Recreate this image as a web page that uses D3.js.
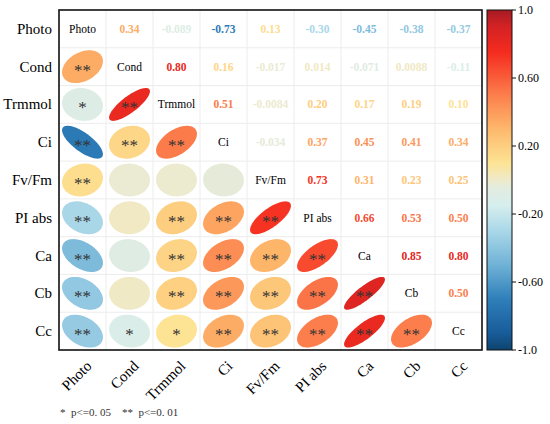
<!DOCTYPE html>
<html>
<head>
<meta charset="utf-8">
<script src="https://cdn.jsdelivr.net/npm/d3@7"></script>
<style>
  body { margin: 0; background: #fff; }
  text { font-family: "Liberation Serif", "Times New Roman", serif; }
</style>
</head>
<body>
<svg width="550" height="424"></svg>
<script>
var vars = ["Photo", "Cond", "Trmmol", "Ci", "Fv/Fm", "PI abs", "Ca", "Cb", "Cc"];

// upper triangle, row by row (r[i][j] for j > i), as labelled
var upper = [
  ["0.34", "-0.089", "-0.73", "0.13", "-0.30", "-0.45", "-0.38", "-0.37"],
  ["0.80", "0.16", "-0.017", "0.014", "-0.071", "0.0088", "-0.11"],
  ["0.51", "-0.0084", "0.20", "0.17", "0.19", "0.10"],
  ["-0.034", "0.37", "0.45", "0.41", "0.34"],
  ["0.73", "0.31", "0.23", "0.25"],
  ["0.66", "0.53", "0.50"],
  ["0.85", "0.80"],
  ["0.50"]
];

// significance marks in the lower triangle, row i, columns 0..i-1
var stars = [
  [],
  ["**"],
  ["*", "**"],
  ["**", "**", "**"],
  ["**", "", "", ""],
  ["**", "", "**", "**", "**"],
  ["**", "", "**", "**", "**", "**"],
  ["**", "", "**", "**", "**", "**", "**"],
  ["**", "*", "*", "**", "**", "**", "**", "**"]
];

var barTicks = [1.0, 0.6, 0.2, -0.2, -0.6, -1.0];
var barTickLabels = ["1.0", "0.60", "0.20", "-0.20", "-0.60", "-1.0"];

var svg = d3.select("svg");

var pLeft = 59, pRight = 482, pTop = 10, pBottom = 350;

var x = d3.scaleBand().domain(vars).range([pLeft, pRight]);
var y = d3.scaleBand().domain(vars).range([pTop, pBottom]);

var color = d3.scaleLinear()
  .domain([-1, -0.9, -0.7, -0.5, -0.3, -0.15, -0.05, 0, 0.1, 0.3, 0.5, 0.75, 0.9, 1])
  .range(["#0e436e", "#185c9a", "#2f7fba", "#6fb2d6", "#a9d7e8", "#d6eeee", "#e2ece0",
          "#eeeacb", "#fde394", "#fdb86c", "#fc7e4c", "#f52c1f", "#d42224", "#a51c24"])
  .interpolate(d3.interpolateRgb);

// build cells
var cells = [];
vars.forEach(function (rv, i) {
  vars.forEach(function (cv, j) {
    var c = { row: rv, col: cv, i: i, j: j };
    if (j > i) { c.label = upper[i][j - i - 1]; c.r = +c.label; c.type = "up"; }
    else if (j < i) { c.label = upper[j][i - j - 1]; c.r = +c.label; c.type = "low"; c.star = stars[i][j]; }
    else { c.type = "diag"; }
    cells.push(c);
  });
});

// grid
var grid = svg.append("g");
vars.forEach(function (v, k) {
  if (k == 0) return;
  grid.append("line").attr("x1", x(v)).attr("x2", x(v)).attr("y1", pTop).attr("y2", pBottom)
    .attr("stroke", "#ececec").attr("stroke-width", 1);
  grid.append("line").attr("x1", pLeft).attr("x2", pRight).attr("y1", y(v)).attr("y2", y(v))
    .attr("stroke", "#ececec").attr("stroke-width", 1);
});

var bw = x.bandwidth(), bh = y.bandwidth();

// ellipse path like corrplot
function ellipsePath(r, cx, cy) {
  var d = Math.acos(Math.max(-1, Math.min(1, r)));
  var pts = d3.range(0, 101).map(function (k) {
    var t = k / 100 * 2 * Math.PI;
    return [cx + Math.cos(t + d / 2) * bw * 0.435, cy - Math.cos(t - d / 2) * bh * 0.435];
  });
  return d3.line()(pts) + "Z";
}

var g = svg.append("g");

g.selectAll(".ell")
  .data(cells.filter(function (c) { return c.type == "low"; }))
  .enter().append("path")
  .attr("class", "ell")
  .attr("d", function (c) { return ellipsePath(c.r, x(c.col) + bw / 2, y(c.row) + bh / 2); })
  .attr("fill", function (c) { return color(c.r); });

g.selectAll(".star")
  .data(cells.filter(function (c) { return c.type == "low" && c.star; }))
  .enter().append("text")
  .attr("class", "star")
  .attr("x", function (c) { return x(c.col) + bw / 2; })
  .attr("y", function (c) { return y(c.row) + bh / 2 + 9; })
  .attr("text-anchor", "middle")
  .attr("font-size", 17)
  .attr("fill", "#333")
  .text(function (c) { return c.star; });

g.selectAll(".val")
  .data(cells.filter(function (c) { return c.type == "up"; }))
  .enter().append("text")
  .attr("class", "val")
  .attr("x", function (c) { return x(c.col) + bw / 2; })
  .attr("y", function (c) { return y(c.row) + bh / 2 + 4; })
  .attr("text-anchor", "middle")
  .attr("font-size", 11.5)
  .attr("font-weight", "bold")
  .attr("fill", function (c) { return color(c.r); })
  .text(function (c) { return c.label; });

g.selectAll(".diag")
  .data(cells.filter(function (c) { return c.type == "diag"; }))
  .enter().append("text")
  .attr("class", "diag")
  .attr("x", function (c) { return x(c.col) + bw / 2; })
  .attr("y", function (c) { return y(c.row) + bh / 2 + 4; })
  .attr("text-anchor", "middle")
  .attr("font-size", 11.5)
  .attr("fill", "#000")
  .text(function (c) { return c.row; });

// border
svg.append("rect").attr("x", pLeft).attr("y", pTop).attr("width", pRight - pLeft).attr("height", pBottom - pTop)
  .attr("fill", "none").attr("stroke", "#111").attr("stroke-width", 1.6);

// row labels
svg.selectAll(".rowlab").data(vars).enter().append("text")
  .attr("x", pLeft - 7)
  .attr("y", function (v) { return y(v) + bh / 2 + 5; })
  .attr("text-anchor", "end")
  .attr("font-size", 15)
  .text(function (v) { return v; });

// column labels, rotated
svg.selectAll(".collab").data(vars).enter().append("text")
  .attr("text-anchor", "end")
  .attr("font-size", 15)
  .attr("transform", function (v) { return "translate(" + (x(v) + bw / 2 + 10) + "," + (pBottom + 17) + ") rotate(-45)"; })
  .text(function (v) { return v; });

// color bar
var bx = 487, bwid = 25;
var by = d3.scaleLinear().domain([-1, 1]).range([pBottom, pTop]);
var defs = svg.append("defs");
var grad = defs.append("linearGradient").attr("id", "cbar")
  .attr("x1", 0).attr("y1", 1).attr("x2", 0).attr("y2", 0);
d3.range(0, 41).forEach(function (k) {
  var v = -1 + k / 20;
  grad.append("stop").attr("offset", (k / 40)).attr("stop-color", color(v));
});
svg.append("rect").attr("x", bx).attr("y", pTop).attr("width", bwid).attr("height", pBottom - pTop)
  .attr("fill", "url(#cbar)").attr("stroke", "#111").attr("stroke-width", 1);

var tk = svg.append("g");
barTicks.forEach(function (t, k) {
  tk.append("line").attr("x1", bx + bwid).attr("x2", bx + bwid + 4)
    .attr("y1", by(t)).attr("y2", by(t)).attr("stroke", "#111");
  tk.append("text").attr("x", bx + bwid + 6).attr("y", by(t) + 4)
    .attr("font-size", 12).text(barTickLabels[k]);
});

// note
svg.append("text").attr("x", 60).attr("y", 416).attr("font-size", 11).attr("fill", "#333")
  .attr("xml:space", "preserve")
  .text("*  p<=0. 05    **  p<=0. 01");
</script>
</body>
</html>
